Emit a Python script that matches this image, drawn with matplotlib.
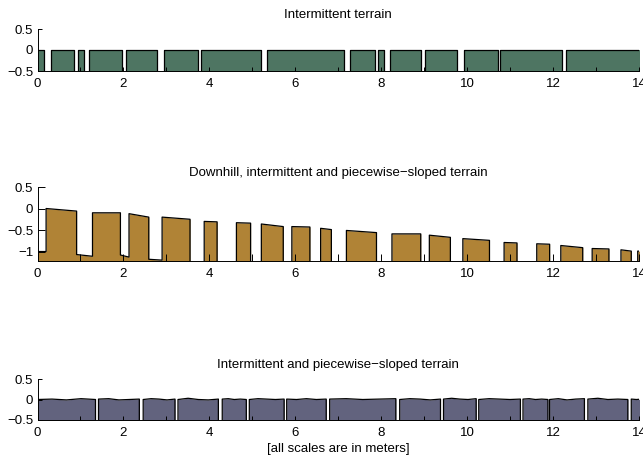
import numpy as np
import matplotlib
matplotlib.use("Agg")
import matplotlib.pyplot as plt

plt.rcParams['font.family'] = ['Liberation Sans', 'DejaVu Sans']
plt.rcParams['font.size'] = 9.5

# ---- data ----
titles = ["Intermittent terrain",
          "Downhill, intermittent and piecewise\u2212sloped terrain",
          "Intermittent and piecewise\u2212sloped terrain"]
colors = ["#4e7562", "#b08336", "#62637e"]

# terrain 1: flat at 0 with holes
gaps1 = [(0.14, 0.31), (0.85, 0.94), (1.09, 1.20), (1.96, 2.05), (2.79, 2.94),
         (3.74, 3.80), (5.21, 5.34), (7.13, 7.28), (7.85, 7.93), (8.07, 8.20),
         (8.93, 9.03), (9.76, 9.92), (10.72, 10.77), (12.20, 12.31)]

# terrain 2: platforms (start, end, height at start, height at end)
plat2 = [(0.20, 0.91, 0.00, -0.06), (1.28, 1.93, -0.10, -0.10),
         (2.13, 2.59, -0.12, -0.20), (2.90, 3.55, -0.20, -0.25),
         (3.88, 4.18, -0.30, -0.31), (4.63, 4.96, -0.33, -0.34),
         (5.21, 5.72, -0.36, -0.42), (5.92, 6.34, -0.42, -0.43),
         (6.59, 6.84, -0.46, -0.49), (7.19, 7.89, -0.51, -0.56),
         (8.25, 8.92, -0.59, -0.59), (9.12, 9.61, -0.62, -0.67),
         (9.90, 10.52, -0.70, -0.74), (10.86, 11.16, -0.79, -0.80),
         (11.62, 11.92, -0.82, -0.83), (12.18, 12.69, -0.86, -0.91),
         (12.91, 13.30, -0.93, -0.94), (13.58, 13.82, -0.96, -0.99),
         (13.97, 14.30, -0.99, -1.00)]
# floor heights in the holes before each platform (start, end)
floor2 = [(-1.00, -1.00), (-1.07, -1.11), (-1.08, -1.13), (-1.18, -1.20)]

# terrain 3: narrow holes, slightly uneven tops
gaps3 = [(1.35, 1.42), (2.37, 2.46), (3.20, 3.27), (4.21, 4.30), (4.86, 4.93),
         (5.74, 5.80), (6.72, 6.80), (8.34, 8.43), (9.38, 9.45), (10.21, 10.27),
         (11.24, 11.30), (11.88, 11.92), (12.73, 12.81), (13.74, 13.82)]
tops3 = [(0.00, 0.01, -0.01, 0.02, 0.00), (0.01, 0.02, -0.01, 0.00, 0.01),
         (0.00, 0.02, 0.01, -0.01, 0.01), (0.00, 0.03, 0.00, -0.01, 0.01),
         (0.01, 0.02, 0.00, 0.01, 0.00), (0.00, 0.02, 0.01, 0.00, 0.01),
         (0.01, 0.00, 0.02, 0.00, 0.01), (0.01, 0.02, 0.00, 0.01, 0.02),
         (0.00, 0.02, 0.01, -0.01, 0.01), (0.01, 0.03, 0.01, 0.00, 0.02),
         (0.00, 0.02, 0.01, 0.00, 0.01), (0.01, 0.02, 0.00, 0.01, 0.00),
         (0.00, 0.02, -0.01, 0.01, 0.02), (0.01, 0.03, 0.00, 0.01, 0.00),
         (0.01, 0.00, 0.01, 0.00, 0.00)]

ylims = [(-0.5, 0.5), (-1.22, 0.5), (-0.5, 0.5)]
yticks = [[-0.5, 0, 0.5], [-1, -0.5, 0, 0.5], [-0.5, 0, 0.5]]
xmax = 14
deep = -3.0


def profile_flat(gaps, h=0.0):
    xs, ys = [0.0], [h]
    for a, b in gaps:
        xs += [a, a, b, b]
        ys += [h, deep, deep, h]
    xs.append(xmax + 0.5)
    ys.append(h)
    return xs, ys


def profile_plat(plats, floors):
    xs, ys = [], []
    prev = 0.0
    for i, (a, b, ha, hb) in enumerate(plats):
        fa, fb = floors[i] if i < len(floors) else (deep, deep)
        xs += [prev, a, a, b]
        ys += [fa, fb, ha, hb]
        prev = b
    return xs, ys


def profile_wavy(gaps, tops):
    edges = [0.0] + [v for g in gaps for v in g] + [xmax + 0.3]
    xs, ys = [], []
    for i, hs in enumerate(tops):
        a, b = edges[2 * i], edges[2 * i + 1]
        px = np.linspace(a, b, len(hs))
        if i > 0:
            xs.append(a)
            ys.append(deep)
        xs += list(px)
        ys += list(hs)
        xs.append(b)
        ys.append(deep)
    return xs, ys


def fmt(v):
    if v == 0:
        return '0'
    s = ('%g' % abs(v))
    return ('\u2212' + s) if v < 0 else s


profiles = [profile_flat(gaps1), profile_plat(plat2, floor2),
            profile_wavy(gaps3, tops3)]

fig = plt.figure(figsize=(6.43, 4.58), dpi=100)
W, H = 643.0, 458.0
boxes = [(29, 71), (187, 261), (379, 420)]
ticklen = [3.0, 5.0, 3.0]
left, right = 37.5, 639.0

for k in range(3):
    top, bot = boxes[k]
    ax = fig.add_axes([left / W, 1 - bot / H, (right - left) / W, (bot - top) / H])
    xs, ys = profiles[k]
    ax.fill_between(xs, ys, deep - 1, color=colors[k], lw=0, zorder=1)
    ax.plot(xs, ys, color='black', lw=0.9, zorder=2)
    ax.set_xlim(0, xmax)
    ax.set_ylim(*ylims[k])
    ax.set_xticks(range(0, 15, 2))
    ax.set_xticks(range(1, 15, 2), minor=True)
    ax.set_yticks(yticks[k])
    ax.set_yticklabels([fmt(v) for v in yticks[k]])
    ax.tick_params(which='both', direction='in', length=ticklen[k], width=0.7,
                   color='black', labelsize=9.5)
    ax.tick_params(axis='x', pad=5)
    ax.tick_params(axis='y', pad=3)
    ax.set_axisbelow(False)
    for s in ['top', 'right']:
        ax.spines[s].set_visible(False)
    for s in ['left', 'bottom']:
        ax.spines[s].set_linewidth(0.7)
        ax.spines[s].set_zorder(3)
    ax.set_title(titles[k], fontsize=9.5, pad=8)
    if k == 2:
        ax.set_xlabel('[all scales are in meters]', fontsize=9.5, labelpad=3)

fig.savefig('out.png', dpi=100)
